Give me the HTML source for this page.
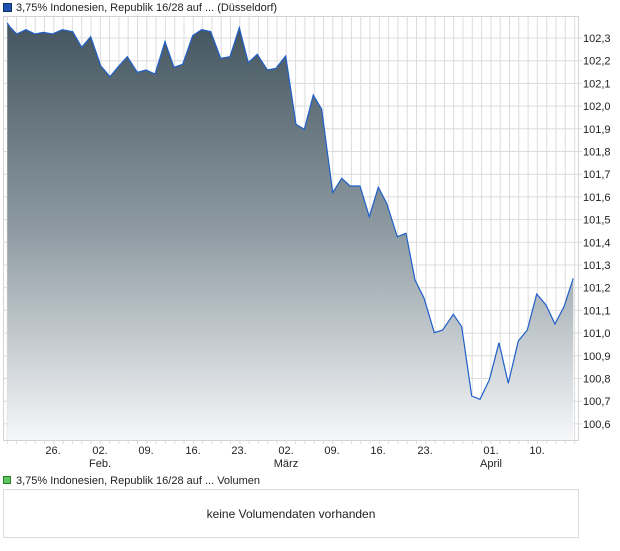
<!DOCTYPE html>
<html><head><meta charset="utf-8"><style>
html,body{margin:0;padding:0;background:#fff;}
body{width:620px;height:546px;overflow:hidden;font-family:"Liberation Sans",sans-serif;}
</style></head><body>
<svg width="620" height="546" viewBox="0 0 620 546" xmlns="http://www.w3.org/2000/svg" font-family="Liberation Sans, sans-serif">
<defs>
<linearGradient id="g" x1="0" y1="0" x2="0" y2="1">
<stop offset="0" stop-color="#44555f"/>
<stop offset="0.5" stop-color="#8e9ba2"/>
<stop offset="1" stop-color="#f6f7f9"/>
</linearGradient>
</defs>
<rect x="3.5" y="3.5" width="8" height="8" fill="#1f4fb0" stroke="#13306b"/>
<text x="16" y="11" font-size="11" fill="#222">3,75% Indonesien, Republik 16/28 auf ... (Düsseldorf)</text>
<g stroke="#dcdcdc" stroke-width="1" id="grid"></g>
<rect x="3.5" y="16.5" width="575" height="424" fill="none" stroke="#d4d4d4"/>
<path id="area" fill="url(#g)" stroke="none"/>
<polyline id="line" fill="none" stroke="#1f5fc8" stroke-width="1.2"/>
<g id="ylab" font-size="11" fill="#222"></g>
<g font-size="11" fill="#222" text-anchor="middle">
<text x="53" y="454">26.</text>
<text x="100" y="454">02.</text><text x="100" y="467">Feb.</text>
<text x="146" y="454">09.</text>
<text x="193" y="454">16.</text>
<text x="239" y="454">23.</text>
<text x="286" y="454">02.</text><text x="286" y="467">März</text>
<text x="332" y="454">09.</text>
<text x="378" y="454">16.</text>
<text x="425" y="454">23.</text>
<text x="491" y="454">01.</text><text x="491" y="467">April</text>
<text x="537" y="454">10.</text>
</g>
<rect x="3.5" y="476.5" width="7" height="7" fill="#5cc85c" stroke="#2f7a2f"/>
<text x="16" y="484" font-size="11" fill="#222">3,75% Indonesien, Republik 16/28 auf ... Volumen</text>
<rect x="3.5" y="489.5" width="575" height="48" fill="#fff" stroke="#dcdcdc"/>
<text x="291" y="518" font-size="12" fill="#222" text-anchor="middle">keine Volumendaten vorhanden</text>
</svg>
<script>
var ns="http://www.w3.org/2000/svg";
var grid=document.getElementById("grid"),yl=document.getElementById("ylab");
for(var k=0;k<=61;k++){var x=7.3+k*9.3;if(x>578)break;var l=document.createElementNS(ns,"line");l.setAttribute("x1",x);l.setAttribute("x2",x);l.setAttribute("y1",17);l.setAttribute("y2",444);grid.appendChild(l);}
for(var i=0;i<18;i++){var y=38+i*22.7;var l=document.createElementNS(ns,"line");l.setAttribute("x1",4);l.setAttribute("x2",582);l.setAttribute("y1",y);l.setAttribute("y2",y);grid.appendChild(l);
var t=document.createElementNS(ns,"text");t.setAttribute("x",583);t.setAttribute("y",y+4);t.textContent=(102.3-i*0.1).toFixed(1).replace(".",",");yl.appendChild(t);}
var p=[[7.3,23],[10,27],[16.7,34],[26,29.7],[35,34],[43.3,32.3],[52.3,34],[62.3,29.7],[72.7,31.7],[81.7,47.3],[90.7,36.7],[100.7,65.7],[110,76.7],[118,67],[127.3,56.7],[137.3,72.3],[146,70],[155,74],[165,41.7],[174,67.3],[182.7,64.3],[192.7,35.7],[201.7,29.7],[210.7,31.7],[220.7,58.3],[230,56.7],[239.3,27.7],[248.3,62.7],[257.3,54.3],[267.3,70],[276,68.3],[285.7,56],[296,124.3],[304.3,129.3],[313.3,95],[321.7,109.3],[332.7,192.7],[341.7,178.3],[350,186],[360,186],[369.3,216.7],[378.3,187.3],[386.7,203.3],[397.3,236.7],[406,233.3],[415,280],[424,298],[434.3,332.7],[442.7,330],[453.3,314.3],[461.7,326.7],[471.7,396],[480,399.3],[489.3,380],[499,342.7],[508.3,383.3],[518.3,341],[527.3,330],[536.7,294],[546,305],[555,324],[564,306.7],[573.3,278.3]];
var s=p.map(function(a){return a.join(",")}).join(" ");
document.getElementById("line").setAttribute("points",s);
document.getElementById("area").setAttribute("d","M7.3,440 L"+p.map(function(a){return a.join(",")}).join(" L")+" L573.3,440 Z");
</script>
</body></html>
